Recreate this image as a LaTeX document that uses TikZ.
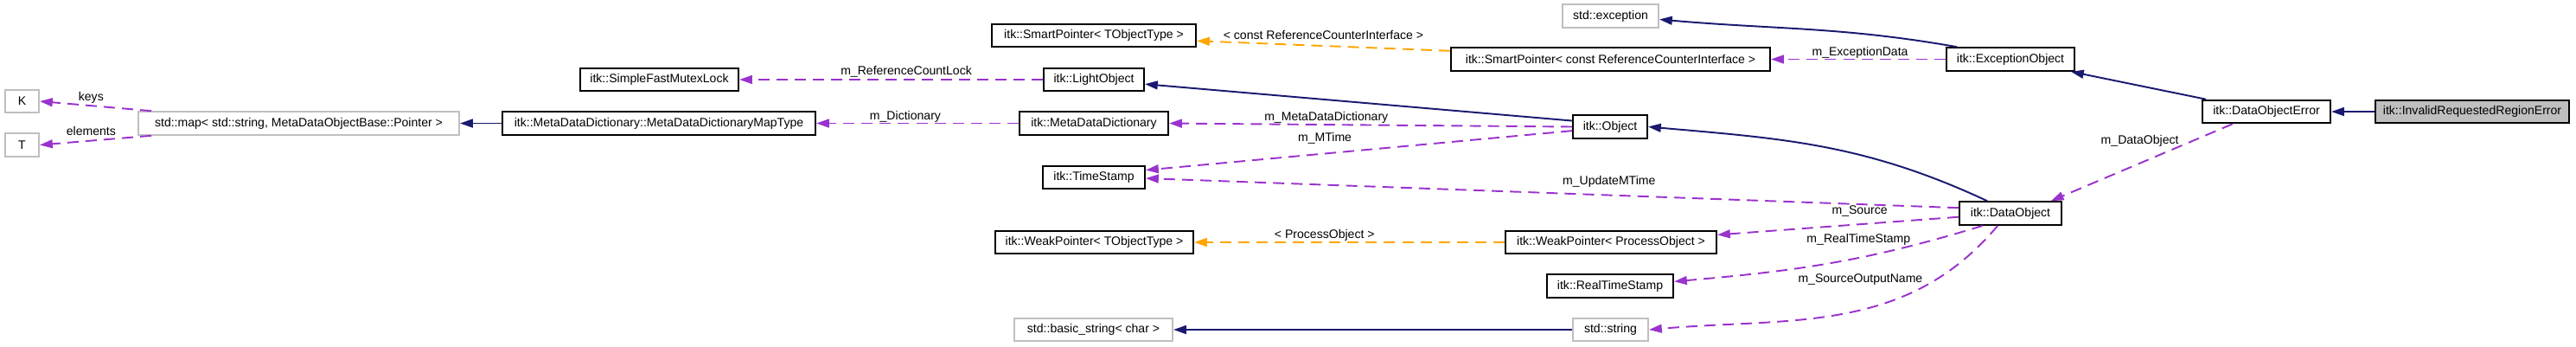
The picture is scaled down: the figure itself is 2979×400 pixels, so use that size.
\documentclass[tikz,border=0pt]{standalone}
\usepackage{fontspec}
\setmainfont{Liberation Sans}
\usetikzlibrary{arrows.meta}
\definecolor{inhblue}{HTML}{191970}
\definecolor{mbrpurple}{HTML}{9A32CD}
\definecolor{tplorange}{HTML}{FFA500}
\definecolor{extgray}{HTML}{BFBFBF}
\newcommand{\dfont}{\fontsize{4pt}{5pt}\selectfont}

\begin{document}
\begin{tikzpicture}[
    x=0.1mm, y=-0.1mm,
    cls/.style={rectangle, draw=black, fill=white, line width=0.6pt, minimum width=#1*0.1mm, minimum height=2.65mm, inner sep=0pt, font=\dfont},
    ext/.style={cls=#1, draw=extgray},
    inh/.style={->, draw=inhblue, line width=0.55pt},
    mbr/.style={->, draw=mbrpurple, line width=0.55pt, dash pattern=on 3.7pt off 2.3pt},
    tpl/.style={mbr, draw=tplorange},
    lbl/.style={font=\dfont, inner sep=0pt, text=black},
    >={Triangle[length=4.2pt, width=2.8pt]}
]
    \useasboundingbox (0,0) rectangle (2979,400);

    \node[ext=39] (keyK) at (25.5,117) {K};
    \node[ext=39] (elemT) at (25.5,167.5) {T};
    \node[ext=371] (stdmap) at (345.5,142.5) {std::map< std::string, MetaDataObjectBase::Pointer >};
    \node[cls=362] (maptype) at (762,142.5) {itk::MetaDataDictionary::MetaDataDictionaryMapType};
    \node[cls=183] (mutex) at (762.5,92) {itk::SimpleFastMutexLock};
    \node[cls=236] (sptr) at (1265,41) {itk::SmartPointer< TObjectType >};
    \node[cls=116] (light) at (1265,92) {itk::LightObject};
    \node[cls=172] (metadict) at (1265,142.5) {itk::MetaDataDictionary};
    \node[cls=118] (tstamp) at (1265,205) {itk::TimeStamp};
    \node[cls=229] (wptr) at (1265.5,280) {itk::WeakPointer< TObjectType >};
    \node[ext=183] (basicstr) at (1264.5,381) {std::basic\_string< char >};
    \node[ext=111] (stdexc) at (1862.5,18.5) {std::exception};
    \node[cls=369] (sptrrci) at (1862.5,68.5) {itk::SmartPointer< const ReferenceCounterInterface >};
    \node[cls=86] (object) at (1862,146.5) {itk::Object};
    \node[cls=244] (wptrpo) at (1863,280) {itk::WeakPointer< ProcessObject >};
    \node[cls=146] (realts) at (1862,330.5) {itk::RealTimeStamp};
    \node[ext=87] (stdstr) at (1862.5,381) {std::string};
    \node[cls=148] (excobj) at (2325,68.5) {itk::ExceptionObject};
    \node[cls=118] (dataobj) at (2325,246.5) {itk::DataObject};
    \node[cls=148] (doerr) at (2621,129) {itk::DataObjectError};
    \node[cls=224, fill=extgray] (irre) at (2859,129) {itk::InvalidRequestedRegionError};

    \draw[inh] (irre) -- (doerr);
    \draw[inh] (doerr) -- (excobj);
    \draw[inh] (excobj.167) to[out=170, in=-5] (stdexc.-4);
    \draw[mbr] (excobj) -- node[lbl, pos=0.49, yshift=0.75mm] (lexc) {m\_ExceptionData} (sptrrci);
    \draw[tpl] (sptrrci.177) -- node[lbl, pos=0.5, yshift=1.25mm] (lrci) {< const ReferenceCounterInterface >} (sptr.-3);
    \draw[mbr] (doerr.-160) -- node[lbl, pos=0.51, yshift=2.55mm] (ldo) {m\_DataObject} (dataobj.17);
    \draw[inh] (dataobj.152) to[out=155, in=-5] (object.east);
    \draw[inh] (object.171) -- (light.-5);
    \draw[mbr] (object.west) -- node[lbl, pos=0.61, yshift=0.8mm] (lmdd) {m\_MetaDataDictionary} (metadict.east);
    \draw[mbr] (object.186) -- node[lbl, pos=0.58, yshift=1.75mm] (lmt) {m\_MTime} (tstamp.8);
    \draw[mbr] (dataobj.174) -- node[lbl, pos=0.43, yshift=1.6mm] (lumt) {m\_UpdateMTime} (tstamp.-1);
    \draw[mbr] (dataobj.184) -- node[lbl, pos=0.41, yshift=1.5mm] (lsrc) {m\_Source} (wptrpo.4);
    \draw[tpl] (wptrpo) -- node[lbl, pos=0.58, yshift=0.8mm] (lpo) {< ProcessObject >} (wptr);
    \draw[mbr] (dataobj.204) to[out=197, in=5] node[lbl, pos=0.4, yshift=2.1mm] (lrts) {m\_RealTimeStamp} (realts.4);
    \draw[mbr] (dataobj.224) to[out=-130, in=5] node[lbl, pos=0.5, xshift=2.1mm, yshift=4mm] (lson) {m\_SourceOutputName} (stdstr.east);
    \draw[inh] (stdstr) -- (basicstr);
    \draw[mbr] (light) -- node[lbl, pos=0.45, yshift=0.9mm] (lrcl) {m\_ReferenceCountLock} (mutex);
    \draw[mbr] (metadict) -- node[lbl, pos=0.56, yshift=0.75mm] (ldict) {m\_Dictionary} (maptype);
    \draw[inh] (maptype) -- (stdmap);
    \draw[mbr] ([xshift=1.6mm]stdmap.north west) -- node[lbl, pos=0.54, yshift=0.95mm] (lkeys) {keys} (keyK.east);
    \draw[mbr] ([xshift=1.6mm]stdmap.south west) -- node[lbl, pos=0.54, yshift=1.15mm] (lelem) {elements} (elemT.east);
\end{tikzpicture}
\end{document}
